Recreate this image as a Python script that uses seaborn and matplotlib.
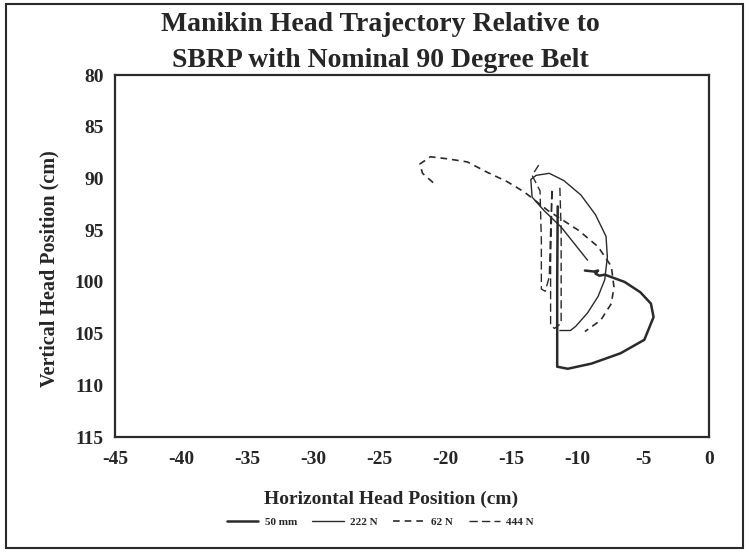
import matplotlib
matplotlib.use("Agg")
import matplotlib.pyplot as plt
import seaborn as sns
import pandas as pd
from matplotlib.patches import Rectangle
from matplotlib.lines import Line2D

# ---- data ----
x_50mm = [-11.46, -11.5, -11.5, -10.7, -8.9, -6.7, -4.9, -4.2, -4.4, -5.2, -6.4, -7.9, -8.3, -8.6, -8.4, -8.7, -9.4]
y_50mm = [92.7, 100.0, 108.2, 108.4, 107.9, 106.9, 105.6, 103.4, 102.1, 101.0, 100.0, 99.3, 99.4, 99.2, 98.9, 99.0, 98.9]

x_222N = [-9.2, -10.2, -11.2, -12.5, -13.4, -13.5, -13.1, -12.1, -11.0, -9.7, -8.6, -7.8, -7.7, -7.9, -8.4, -9.2, -10.1, -10.5, -11.3]
y_222N = [97.9, 96.3, 94.7, 93.1, 91.8, 90.1, 89.7, 89.5, 90.2, 91.6, 93.5, 95.6, 97.6, 99.8, 101.4, 103.0, 104.3, 104.7, 104.7]

x_62N = [-20.9, -21.7, -21.9, -21.1, -19.8, -18.3, -16.8, -15.3, -14.0, -12.2, -9.9, -8.4, -7.4, -7.2, -7.4, -8.2, -9.4]
y_62N = [90.4, 89.5, 88.6, 87.9, 88.1, 88.4, 89.4, 90.3, 91.3, 93.1, 95.0, 96.6, 98.5, 100.5, 102.1, 103.7, 104.8]

x_444N = [-12.9, -13.4, -12.8, -12.7, -12.7, -12.4, -12.1, -12.0, -11.9, -11.9, -12.0, -12.0, -11.7, -11.2, -11.2, -11.3]
y_444N = [88.7, 89.7, 91.2, 96.0, 100.7, 100.9, 99.5, 95.0, 91.0, 92.0, 98.0, 104.2, 104.5, 104.0, 95.0, 90.8]

series_names = ["50 mm", "222 N", "62 N", "444 N"]
x_ticks = [-45, -40, -35, -30, -25, -20, -15, -10, -5, 0]
y_ticks = [80, 85, 90, 95, 100, 105, 110, 115]

frames = []
for name, xs, ys in zip(series_names, [x_50mm, x_222N, x_62N, x_444N], [y_50mm, y_222N, y_62N, y_444N]):
    frames.append(pd.DataFrame({"x": xs, "y": ys, "series": name, "order": range(len(xs))}))
df = pd.concat(frames, ignore_index=True)

sns.set_style("white")
plt.rcParams["font.family"] = ["Liberation Serif", "DejaVu Serif"]
plt.rcParams["font.weight"] = "bold"

fig = plt.figure(figsize=(7.49, 5.52), dpi=100)
ax = fig.add_axes([0.1535, 0.2083, 0.7931, 0.6557])

ink = "#2a2a2a"
styles = {
    "50 mm": dict(lw=1.8, ls="-"),
    "222 N": dict(lw=1.0, ls="-"),
    "62 N": dict(lw=1.2, ls=(0, (4, 3))),
    "444 N": dict(lw=1.0, ls=(0, (6, 3))),
}
for name in series_names:
    sub = df[df["series"] == name]
    sns.lineplot(data=sub, x="x", y="y", sort=False, estimator=None, ax=ax,
                 color=ink, linewidth=styles[name]["lw"], linestyle=styles[name]["ls"])

ax.set_xlim(-45, 0)
ax.set_ylim(115, 80)
ax.set_xticks(x_ticks)
ax.set_yticks(y_ticks)
ax.set_xticklabels([str(t) for t in x_ticks], fontsize=14, fontweight="bold")
ax.set_yticklabels([str(t) for t in y_ticks], fontsize=14, fontweight="bold")
ax.tick_params(axis="x", length=0, pad=10)
ax.tick_params(axis="y", length=0, pad=8)
for s in ax.spines.values():
    s.set_linewidth(1.6)
    s.set_color(ink)
ax.set_xlabel("Horizontal Head Position (cm)", fontsize=14, fontweight="bold")
ax.set_ylabel("Vertical Head Position (cm)", fontsize=14.5, fontweight="bold")
ax.xaxis.set_label_coords(0.465, -0.149)
ax.yaxis.set_label_coords(-0.093, 0.464)

fig.text(0.508, 0.955, "Manikin Head Trajectory Relative to", ha="center", va="center",
         fontsize=20, fontweight="bold")
fig.text(0.508, 0.89, "SBRP with Nominal 90 Degree Belt", ha="center", va="center",
         fontsize=20, fontweight="bold")

handles = [Line2D([], [], color=ink, lw=styles[n]["lw"], ls=styles[n]["ls"]) for n in series_names]
fig.legend(handles, series_names, loc="center", bbox_to_anchor=(0.508, 0.055), ncol=4,
           frameon=False, handlelength=2.8, columnspacing=1.4, handletextpad=0.6,
           prop={"weight": "bold", "size": 8})

fig.patches.append(Rectangle((0.008, 0.008), 0.984, 0.984, transform=fig.transFigure,
                             fill=False, edgecolor=ink, linewidth=1.5))

fig.savefig("out.png", dpi=100)
